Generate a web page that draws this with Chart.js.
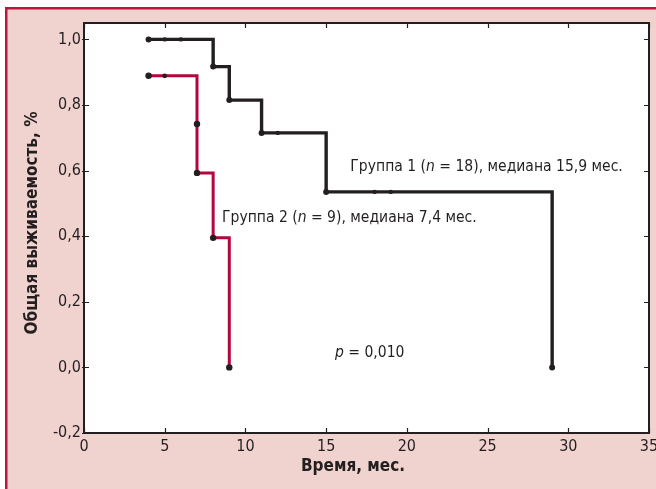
<!DOCTYPE html>
<html>
<head>
<meta charset="utf-8">
<script src="https://cdn.jsdelivr.net/npm/chart.js@4/dist/chart.umd.min.js"></script>
<style>
  html, body { margin: 0; padding: 0; background: #ffffff; }
  #wrap { position: relative; width: 656px; height: 489px; }
</style>
</head>
<body>
<div id="wrap"><canvas id="c" width="656" height="489"></canvas></div>
<script>
// ---- data ----
const xTickValues = [0, 5, 10, 15, 20, 25, 30, 35];
const yTickValues = [-0.2, 0.0, 0.2, 0.4, 0.6, 0.8, 1.0];

// Group 1 (black): step points (start + events) and censored marks
const group1StepX = [4, 8, 9, 11, 15, 29];
const group1StepY = [1.0, 0.917, 0.815, 0.715, 0.535, 0.0];
const group1CensorX = [5, 6, 12, 18, 19];
const group1CensorY = [1.0, 1.0, 0.715, 0.535, 0.535];

// Group 2 (red)
const group2StepX = [4, 7, 7, 8, 9];
const group2StepY = [0.889, 0.742, 0.593, 0.395, 0.0];
const group2CensorX = [5];
const group2CensorY = [0.889];

const labelGroup1 = ['Группа 1 (', 'n', ' = 18), медиана 15,9 мес.'];
const labelGroup2 = ['Группа 2 (', 'n', ' = 9), медиана 7,4 мес.'];
const labelP = ['', 'p', ' = 0,010'];
const xTitle = 'Время, мес.';
const yTitle = 'Общая выживаемость, %';

// ---- styles ----
const FAM = "'Liberation Sans Narrow','DejaVu Sans Condensed','Roboto Condensed','Liberation Sans',sans-serif";
const INK = '#231f20';
const RED = '#b3063c';
const PINK = '#f0d3ce';
const CRIMSON = '#c0143c';

const zip = (xs, ys) => xs.map((x, i) => ({ x: x, y: ys[i] }));

const decor = {
  id: 'decor',
  beforeDraw(chart) {
    const ctx = chart.ctx, W = chart.width, H = chart.height, a = chart.chartArea;
    ctx.save();
    ctx.fillStyle = '#ffffff';
    ctx.fillRect(0, 0, W, H);
    ctx.fillStyle = PINK;
    ctx.fillRect(5, 7, W - 5, H - 7);
    ctx.fillStyle = CRIMSON;
    ctx.fillRect(5, 7, 2.5, H - 7);
    ctx.fillRect(5, 7, W - 5, 2.5);
    ctx.fillStyle = '#ffffff';
    ctx.fillRect(a.left, a.top, a.right - a.left, a.bottom - a.top);
    ctx.restore();
  },
  afterDraw(chart) {
    const ctx = chart.ctx, a = chart.chartArea;
    const xs = chart.scales.x, ys = chart.scales.y;
    ctx.save();
    // frame
    ctx.strokeStyle = INK;
    ctx.lineWidth = 2;
    ctx.strokeRect(a.left, a.top, a.right - a.left, a.bottom - a.top);
    // inside ticks on all four sides
    ctx.lineWidth = 1.2;
    const TL = 5;
    ctx.beginPath();
    xTickValues.forEach(v => {
      const px = Math.round(xs.getPixelForValue(v)) + 0.5;
      ctx.moveTo(px, a.bottom); ctx.lineTo(px, a.bottom - TL);
      ctx.moveTo(px, a.top); ctx.lineTo(px, a.top + TL);
    });
    yTickValues.forEach(v => {
      const py = Math.round(ys.getPixelForValue(v)) + 0.5;
      ctx.moveTo(a.left - 2, py); ctx.lineTo(a.left + TL, py);
      ctx.moveTo(a.right, py); ctx.lineTo(a.right - TL, py);
    });
    ctx.stroke();

    // annotations (mixed upright / italic), slightly condensed
    const SQ = 0.97;
    const drawMixed = (parts, xv, yv) => {
      const x0 = xs.getPixelForValue(xv);
      const y = ys.getPixelForValue(yv);
      ctx.save();
      ctx.translate(x0, y);
      ctx.scale(SQ, 1);
      ctx.textBaseline = 'middle';
      ctx.textAlign = 'left';
      ctx.fillStyle = INK;
      let x = 0;
      parts.forEach((p, i) => {
        ctx.font = (i === 1 ? 'italic ' : '') + '16px ' + FAM;
        ctx.fillText(p, x, 0);
        x += ctx.measureText(p).width;
      });
      ctx.restore();
    };
    drawMixed(labelGroup1, 16.5, 0.612);
    drawMixed(labelGroup2, 8.55, 0.456);
    drawMixed(labelP, 15.55, 0.043);

    // axis titles
    ctx.fillStyle = INK;
    ctx.font = 'bold 17px ' + FAM;
    ctx.textAlign = 'center';
    ctx.textBaseline = 'middle';
    ctx.fillText(xTitle, 353, 467);
    ctx.save();
    ctx.translate(33, 223);
    ctx.rotate(-Math.PI / 2);
    ctx.fillText(yTitle, 0, 0);
    ctx.restore();
    ctx.restore();
  }
};

new Chart(document.getElementById('c'), {
  type: 'line',
  data: {
    datasets: [
      {
        data: zip(group1StepX, group1StepY),
        stepped: 'before',
        borderColor: INK,
        borderWidth: 3.4,
        pointRadius: 3,
        pointBackgroundColor: INK,
        pointBorderWidth: 0,
        order: 2
      },
      {
        data: zip(group2StepX, group2StepY),
        stepped: 'before',
        borderColor: RED,
        borderWidth: 3,
        pointRadius: 3.2,
        pointBackgroundColor: INK,
        pointBorderWidth: 0,
        order: 2
      },
      {
        type: 'scatter',
        data: zip(group1CensorX, group1CensorY),
        pointRadius: 2.2,
        pointBackgroundColor: INK,
        pointBorderWidth: 0,
        showLine: false,
        order: 1
      },
      {
        type: 'scatter',
        data: zip(group2CensorX, group2CensorY),
        pointRadius: 2.4,
        pointBackgroundColor: INK,
        pointBorderWidth: 0,
        showLine: false,
        order: 1
      }
    ]
  },
  options: {
    responsive: false,
    animation: false,
    events: [],
    layout: { padding: { left: 0, right: 7, top: 23, bottom: 0 } },
    plugins: { legend: { display: false }, tooltip: { enabled: false } },
    scales: {
      x: {
        type: 'linear',
        min: 0, max: 35,
        grid: { display: false, drawTicks: false },
        border: { display: false },
        afterFit: s => { s.height = 56; s.paddingRight = 0; s.paddingLeft = 0; },
        afterBuildTicks: s => { s.ticks = xTickValues.map(v => ({ value: v })); },
        ticks: {
          padding: 4,
          maxRotation: 0,
          autoSkip: false,
          color: INK,
          font: { family: FAM, size: 16 },
          callback: v => String(v)
        }
      },
      y: {
        type: 'linear',
        min: -0.2, max: 1.05,
        grid: { display: false, drawTicks: false },
        border: { display: false },
        afterFit: s => { s.width = 84; s.paddingTop = 0; s.paddingBottom = 0; },
        afterBuildTicks: s => { s.ticks = yTickValues.map(v => ({ value: v })); },
        ticks: {
          padding: 3,
          autoSkip: false,
          color: INK,
          font: { family: FAM, size: 16 },
          callback: v => Number(v).toFixed(1).replace('.', ',')
        }
      }
    }
  },
  plugins: [decor]
});
</script>
</body>
</html>
